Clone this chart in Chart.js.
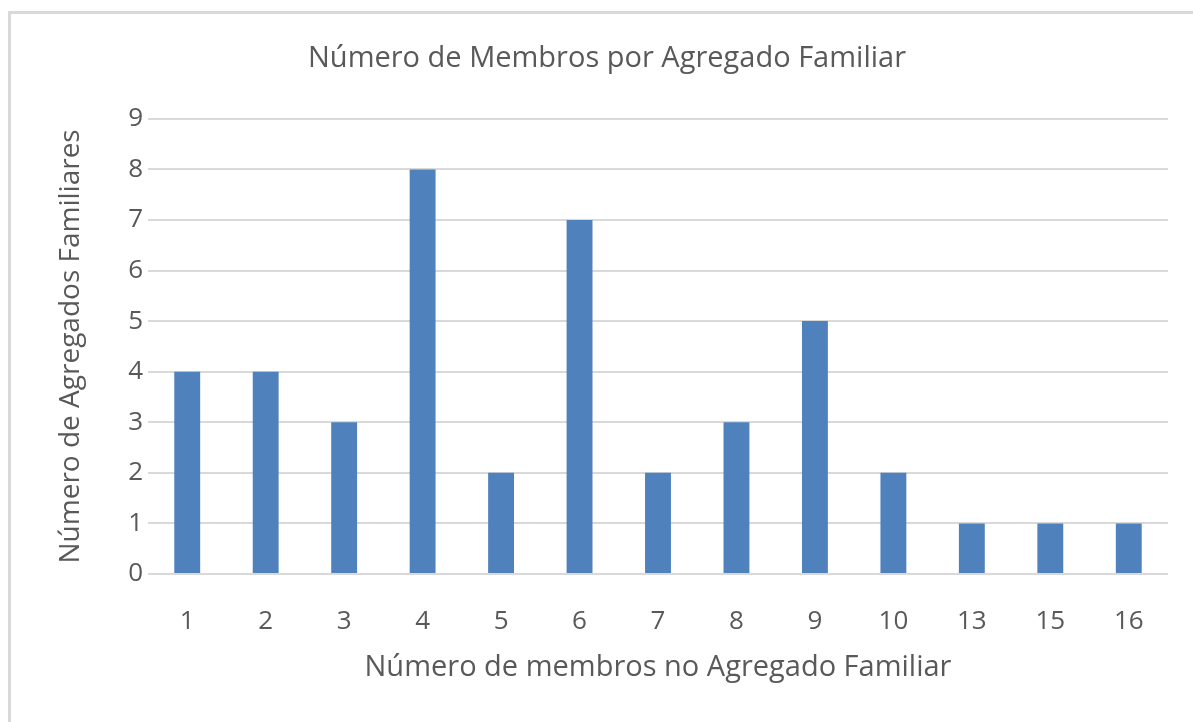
<!DOCTYPE html>
<html>
<head>
<meta charset="utf-8">
<script src="https://cdn.jsdelivr.net/npm/chart.js@4.4.1/dist/chart.umd.min.js"></script>
<style>
  html, body { margin: 0; padding: 0; background: #fff; overflow: hidden; }
  #frame {
    position: absolute; left: 8px; top: 11px; width: 1220px; height: 760px;
    border-left: 3px solid #d9d9d9; border-top: 3px solid #d9d9d9;
  }
  #wrap { position: absolute; left: 0; top: 0; width: 1193px; height: 722px; }
</style>
</head>
<body>
<div id="frame"></div>
<div id="wrap"><canvas id="chart" width="1193" height="722"></canvas></div>
<script>
// household size categories and how many households have each size
const memberCounts = ["1", "2", "3", "4", "5", "6", "7", "8", "9", "10", "13", "15", "16"];
const households = [4, 4, 3, 8, 2, 7, 2, 3, 5, 2, 1, 1, 1];
const yTicks = [0, 1, 2, 3, 4, 5, 6, 7, 8, 9];

const TEXT = "#595959";
const GRID = "#d9d9d9";
const BAR = "#4f81bd";
const FONT = "'Open Sans', 'Noto Sans', sans-serif";

new Chart(document.getElementById("chart"), {
  type: "bar",
  data: {
    labels: memberCounts,
    datasets: [{
      data: households,
      backgroundColor: BAR,
      borderWidth: 0,
      barPercentage: 0.33,
      categoryPercentage: 1,
    }],
  },
  options: {
    responsive: false,
    animation: false,
    layout: { padding: { left: 46, right: 25, top: 0, bottom: 0 } },
    plugins: {
      legend: { display: false },
      tooltip: { enabled: false },
      title: {
        display: true,
        text: "Número de Membros por Agregado Familiar",
        color: TEXT,
        font: { family: FONT, size: 29, weight: "normal", lineHeight: 1.2 },
        padding: { top: 41, bottom: 43 },
      },
    },
    scales: {
      x: {
        grid: { display: false },
        border: { display: false },
        ticks: { color: TEXT, font: { family: FONT, size: 26 }, maxRotation: 0, autoSkip: false, padding: 24 },
        title: {
          display: true,
          text: "Número de membros no Agregado Familiar",
          color: TEXT,
          font: { family: FONT, size: 29, lineHeight: 1.2 },
          padding: { top: 0, bottom: 37 },
        },
        afterFit(scale) { scale.height = 148; },
      },
      y: {
        min: 0,
        max: 9,
        afterBuildTicks(scale) { scale.ticks = yTicks.map((v) => ({ value: v })); },
        grid: { color: GRID, lineWidth: 2, drawTicks: false },
        border: { display: false },
        ticks: { color: TEXT, font: { family: FONT, size: 26 }, padding: 5 },
        title: {
          display: true,
          text: "Número de Agregados Familiares",
          color: TEXT,
          font: { family: FONT, size: 28, lineHeight: 1.2 },
          padding: { top: 8, bottom: 0 },
        },
        afterFit(scale) { scale.width = 102; },
      },
    },
  },
});
</script>
</body>
</html>
